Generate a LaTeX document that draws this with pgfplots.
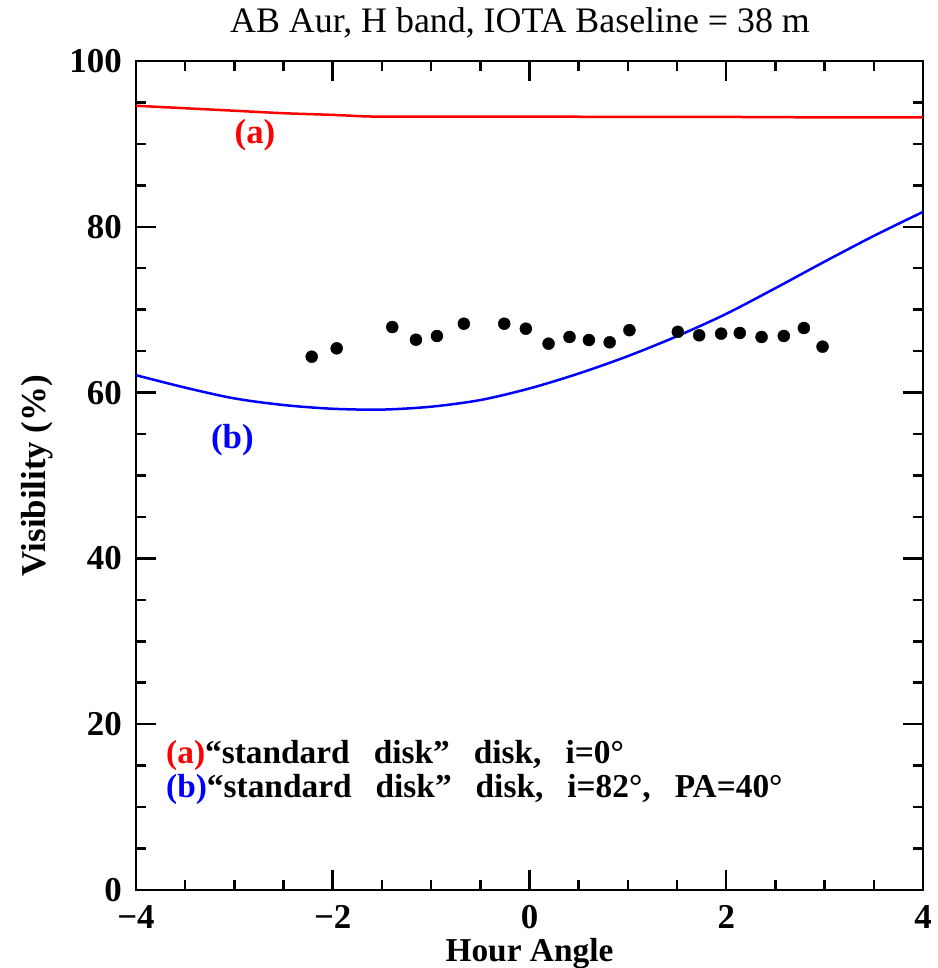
\documentclass[border=0pt]{standalone}
\usepackage{fontspec}
\setmainfont{Liberation Serif}
\usepackage{pgfplots}
\pgfplotsset{compat=1.18}
\definecolor{pred}{RGB}{255,0,0}
\definecolor{pblue}{RGB}{0,0,255}
\newcommand{\labfont}{\fontsize{35}{35}\selectfont\bfseries}
\newcommand{\legfont}{\fontsize{33.5}{33.5}\selectfont\bfseries}
\begin{document}
\begin{tikzpicture}
\begin{axis}[
 name=ax, at={(0,0)}, anchor=south west,
 scale only axis, width=787bp, height=829bp,
 xmin=-4, xmax=4, ymin=0, ymax=100,
 xtick={-4,-2,0,2,4}, xticklabels={−4,−2,0,2,4},
 ytick={0,20,40,60,80,100}, yticklabels={0,20,40,60,80,100},
 minor x tick num=3, minor y tick num=3,
 tick align=inside, major tick length=20bp, minor tick length=10bp,
 axis line style={line width=2.5bp},
 every tick/.style={black, line width=2.5bp},
 ticklabel style={font=\labfont, inner sep=0pt},
 xticklabel style={anchor=base, yshift=-38bp},
 yticklabel style={anchor=east, xshift=-14bp},
 xlabel={Hour Angle}, ylabel={Visibility (\%)},
 label style={font=\labfont, inner sep=0pt},
 xlabel style={font=\fontsize{33.5}{33.5}\selectfont\bfseries, at={(axis description cs:0.5,-0.0857)}, anchor=base},
 ylabel style={at={(axis description cs:-0.1144,0.5)}, anchor=base},
 title={AB Aur, H band, IOTA Baseline = 38 m},
 title style={font=\fontsize{36}{36}\selectfont, inner sep=0pt, at={(axis description cs:0.488,1.027)}, anchor=base},
]
\addplot[pred, line width=2.5bp, smooth] coordinates {
(-4,94.6) (-3.5,94.3) (-3,94.0) (-2.5,93.7) (-2,93.5) (-1.6,93.3) (-1,93.3) (0,93.3) (1,93.25) (2,93.25) (3,93.2) (4,93.2)};
\addplot[pblue, line width=2.5bp, smooth] coordinates {
(-4,62.1) (-3.5,60.6) (-3,59.3) (-2.5,58.5) (-2,58.05) (-1.5,57.95) (-1,58.3) (-0.5,59.1) (0,60.5) (0.5,62.3) (1,64.4) (1.5,66.8) (2,69.5) (2.5,72.6) (3,75.8) (3.5,78.9) (4,81.8)};
\addplot[only marks, mark=*, mark size=6bp, black] coordinates {
(-2.214,64.33) (-1.960,65.34) (-1.395,67.91) (-1.154,66.38) (-0.941,66.83) (-0.667,68.31) (-0.257,68.31) (-0.037,67.71) (0.194,65.90) (0.407,66.71) (0.604,66.34) (0.815,66.07) (1.016,67.53) (1.508,67.33) (1.725,66.91) (1.948,67.11) (2.138,67.19) (2.359,66.71) (2.585,66.83) (2.789,67.79) (2.979,65.54)};
\node[pred, font=\labfont] at (axis cs:-2.79,91.1) {(a)};
\node[pblue, font=\labfont] at (axis cs:-3.02,54.3) {(b)};
\node[anchor=base west, inner sep=0pt, font=\legfont] at (axis cs:-3.695,15.2) {\spaceskip=24bp\textcolor{pred}{(a)}``standard disk'' disk, i=0°};
\node[anchor=base west, inner sep=0pt, font=\legfont] at (axis cs:-3.695,11.2) {\spaceskip=24bp\textcolor{pblue}{(b)}``standard disk'' disk, i=82°, PA=40°};
\end{axis}
\pgfresetboundingbox
\path[use as bounding box] ([shift={(-136bp,-78bp)}]ax.south west) rectangle ([shift={(15bp,61bp)}]ax.north east);
\end{tikzpicture}
\end{document}
